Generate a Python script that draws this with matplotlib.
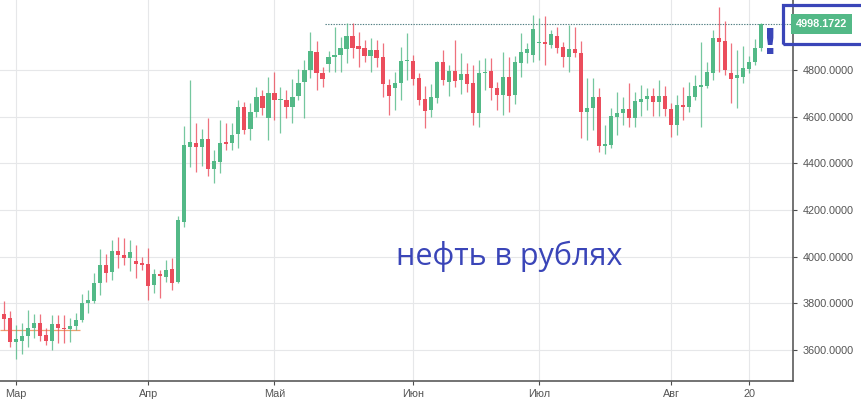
import matplotlib.pyplot as plt
import matplotlib.patches as patches
import matplotlib.transforms as transforms
import pandas as pd

# daily candles, brent in rubles, 27 Feb - 22 Aug 2018
dates = pd.bdate_range('2018-02-27', '2018-08-22')

opens = [3754, 3737, 3634, 3638, 3659, 3694, 3715, 3664, 3638, 3711,
         3694, 3690, 3702, 3728, 3801, 3809, 3886, 3964, 3934, 4024,
         4006, 3994, 3981, 3972, 3968, 3878, 3925, 3912, 3946, 3891,
         4148, 4469, 4486, 4469, 4503, 4375, 4405, 4490, 4486, 4525,
         4640, 4546, 4619, 4687, 4593, 4700, 4670, 4670, 4640, 4687,
         4747, 4799, 4876, 4786, 4824, 4854, 4863, 4889, 4944, 4901,
         4893, 4859, 4884, 4854, 4734, 4722, 4743, 4837, 4837, 4764,
         4674, 4627, 4679, 4833, 4747, 4794, 4756, 4782, 4743, 4615,
         4786, 4794, 4722, 4692, 4769, 4692, 4829, 4872, 4863, 4914,
         4919, 4906, 4944, 4897, 4854, 4889, 4872, 4619, 4636, 4683,
         4473, 4477, 4598, 4615, 4632, 4593, 4662, 4675, 4687, 4662,
         4687, 4632, 4563, 4649, 4640, 4683, 4726, 4730, 4786, 4936,
         4923, 4786, 4764, 4769, 4803, 4833, 4893]
highs = [3809, 3767, 3707, 3715, 3771, 3754, 3754, 3694, 3749, 3749,
         3749, 3737, 3758, 3839, 3856, 3929, 4032, 4011, 4071, 4084,
         4079, 4071, 4049, 3998, 4036, 3946, 3942, 3985, 3994, 4173,
         4559, 4756, 4572, 4546, 4593, 4456, 4585, 4572, 4572, 4670,
         4662, 4657, 4726, 4713, 4769, 4790, 4726, 4713, 4760, 4803,
         4842, 4961, 4923, 4812, 4880, 4983, 4940, 5000, 5000, 4961,
         4927, 4936, 4927, 4914, 4760, 4790, 4897, 4957, 4863, 4786,
         4730, 4739, 4837, 4884, 4820, 4927, 4872, 4829, 4820, 4842,
         4850, 4850, 4747, 4876, 4854, 4859, 4957, 4914, 5034, 5021,
         5030, 4970, 4983, 4919, 4991, 4983, 4923, 4764, 4764, 4722,
         4563, 4636, 4704, 4683, 4743, 4704, 4734, 4722, 4722, 4756,
         4730, 4657, 4692, 4726, 4747, 4777, 4919, 4833, 4970, 5069,
         5009, 4914, 4884, 4901, 4859, 4931, 5000]
lows = [3685, 3612, 3561, 3582, 3612, 3651, 3638, 3621, 3600, 3630,
        3630, 3634, 3685, 3719, 3758, 3801, 3835, 3891, 3899, 3951,
        3964, 3938, 3908, 3942, 3814, 3843, 3822, 3891, 3856, 3886,
        4126, 4383, 4362, 4388, 4345, 4315, 4358, 4456, 4456, 4465,
        4525, 4499, 4597, 4606, 4499, 4585, 4529, 4593, 4572, 4670,
        4593, 4764, 4713, 4726, 4790, 4790, 4790, 4829, 4850, 4812,
        4833, 4790, 4812, 4683, 4606, 4627, 4670, 4756, 4734, 4649,
        4550, 4597, 4657, 4734, 4687, 4726, 4696, 4704, 4563, 4555,
        4713, 4670, 4627, 4606, 4619, 4653, 4769, 4829, 4833, 4842,
        4820, 4893, 4872, 4812, 4790, 4854, 4507, 4499, 4542, 4447,
        4439, 4465, 4520, 4563, 4555, 4555, 4602, 4627, 4602, 4602,
        4602, 4512, 4520, 4585, 4619, 4670, 4555, 4722, 4756, 4790,
        4777, 4657, 4636, 4743, 4786, 4820, 4880]
closes = [3732, 3634, 3647, 3659, 3694, 3715, 3659, 3638, 3711, 3694,
          3690, 3702, 3728, 3801, 3814, 3886, 3964, 3929, 4024, 4006,
          3994, 4019, 3970, 3964, 3874, 3925, 3917, 3942, 3886, 4156,
          4477, 4490, 4469, 4503, 4375, 4409, 4486, 4482, 4520, 4640,
          4542, 4619, 4683, 4636, 4700, 4670, 4675, 4640, 4683, 4743,
          4799, 4880, 4786, 4760, 4854, 4863, 4893, 4944, 4893, 4889,
          4859, 4884, 4850, 4739, 4687, 4743, 4837, 4839, 4760, 4670,
          4623, 4683, 4833, 4756, 4794, 4752, 4782, 4739, 4615, 4786,
          4790, 4722, 4692, 4769, 4687, 4833, 4876, 4889, 4974, 4915,
          4910, 4953, 4893, 4854, 4889, 4872, 4619, 4636, 4683, 4473,
          4482, 4602, 4615, 4632, 4593, 4666, 4675, 4687, 4662, 4687,
          4632, 4563, 4649, 4640, 4687, 4730, 4734, 4790, 4936, 4919,
          4799, 4760, 4777, 4807, 4833, 4893, 4998.1722]

month_labels = ['Мар', 'Апр', 'Май', 'Июн', 'Июл', 'Авг', '20']
month_dates = ['2018-03-01', '2018-04-02', '2018-05-01', '2018-06-01',
               '2018-07-02', '2018-08-01', '2018-08-20']
y_ticks = [3600, 3800, 4000, 4200, 4400, 4600, 4800]

level_start = '2018-05-11'   # dotted level line starts here
march_level = 3685           # orange line in march
march_end = '2018-03-15'

title_text = 'нефть в рублях'

UP = '#53b987'
DOWN = '#eb4d5c'
BLUE = '#3a45b8'

fig = plt.figure(figsize=(8.62, 4.19), dpi=100)
ax = fig.add_axes([0, 0.0907, 0.92, 0.9093])

idx = list(range(len(dates)))
for i, o, h, l, c in zip(idx, opens, highs, lows, closes):
    col = UP if c >= o else DOWN
    ax.vlines(i, l, h, color=col, lw=0.9, alpha=0.8, zorder=3)
    ax.bar(i, max(abs(c - o), 5), bottom=min(o, c), width=0.7,
           color=col, zorder=4)

pos = {d: k for k, d in enumerate(dates.strftime('%Y-%m-%d'))}
month_pos = [pos[d] for d in month_dates]

ax.set_xlim(-0.67, 131.3)
ax.set_ylim(3467, 5100)

# grid
for x in month_pos:
    ax.axvline(x, color='#e6e7e9', lw=0.8, zorder=1)
for y in y_ticks:
    ax.axhline(y, color='#e6e7e9', lw=0.8, zorder=1)

# user lines
ax.hlines(closes[-1], pos[level_start] + 0.4, 131.3, color='#4f7d80',
          lw=0.8, linestyles=(0, (1.2, 1.2)), zorder=2)
ax.hlines(march_level, -0.67, pos[march_end] + 0.6, color='#f0a070',
          lw=0.9, zorder=2)

ax.set_xticks(month_pos)
ax.set_xticklabels(month_labels)
ax.set_yticks(y_ticks)
ax.set_yticklabels([f'{v:.4f}' for v in y_ticks])
ax.yaxis.tick_right()
ax.tick_params(axis='both', colors='#4d4d4d', labelcolor='#555555',
               labelsize=7.8, length=3, width=0.8, direction='out')
ax.tick_params(axis='x', pad=3)
ax.tick_params(axis='y', pad=4)
for lab in ax.get_xticklabels() + ax.get_yticklabels():
    lab.set_family('Liberation Sans')

for side in ['top', 'left']:
    ax.spines[side].set_visible(False)
for side in ['bottom', 'right']:
    ax.spines[side].set_color('#4d4d4d')
    ax.spines[side].set_linewidth(1.1)

# last price tag
trans = transforms.blended_transform_factory(ax.transAxes, ax.transData)
ax.text(1.003, closes[-1], f'{closes[-1]:.4f}', transform=trans,
        ha='left', va='center', color='white', fontsize=7.8,
        family='Liberation Sans', weight='bold', clip_on=False,
        bbox=dict(boxstyle='square,pad=0.45', fc=UP, ec='none'))

# hand-drawn marks
fig.patches.append(patches.Rectangle((0.908, 0.895), 0.12, 0.093,
                                     transform=fig.transFigure, fill=False,
                                     ec=BLUE, lw=2.3, clip_on=False))
fig.text(0.8935, 0.871, '!', color=BLUE, fontsize=26, weight='bold',
         ha='center', va='baseline')

ax.text(0.642, 0.328, title_text, transform=ax.transAxes, color=BLUE,
        fontsize=22, family='Open Sans', ha='center', va='center')

fig.savefig('out.png', dpi=100)
